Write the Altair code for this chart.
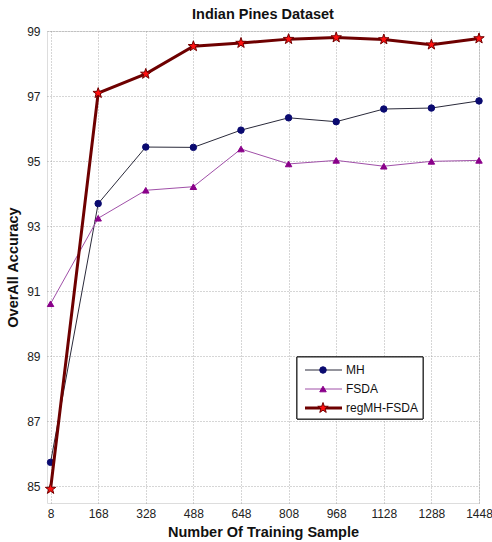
import altair as alt
import pandas as pd

# Training-set sizes and overall accuracy (%) per method
samples = [8, 168, 328, 488, 648, 808, 968, 1128, 1288, 1448]
mh = [85.73, 93.69, 95.43, 95.42, 95.95, 96.33, 96.21, 96.60, 96.63, 96.85]
fsda = [90.61, 93.24, 94.10, 94.21, 95.37, 94.91, 95.02, 94.84, 94.99, 95.02]
reg_mh_fsda = [84.91, 97.09, 97.68, 98.53, 98.63, 98.75, 98.80, 98.74, 98.58, 98.77]

series_names = ["MH", "FSDA", "regMH-FSDA"]
y_ticks = [85, 87, 89, 91, 93, 95, 97, 99]

rows = []
for name, vals in zip(series_names, [mh, fsda, reg_mh_fsda]):
    for n, v in zip(samples, vals):
        rows.append({"series": name, "n": n, "acc": v})
df = pd.DataFrame(rows)

FONT = "Liberation Sans"

# five-pointed star as a unit SVG path
STAR = ("M0,-1L0.235,-0.324L0.951,-0.309L0.380,0.124L0.588,0.809L0,0.4"
        "L-0.588,0.809L-0.380,0.124L-0.951,-0.309L-0.235,-0.324Z")

# line / marker styling per series
styles = {
    "MH": dict(line="#2a2a3a", lw=1, shape="circle", fill="#0a0a70", stroke="#0a0a70", size=42),
    "FSDA": dict(line="#a050a8", lw=1, shape="triangle-up", fill="#8a008a", stroke="#8a008a", size=42),
    "regMH-FSDA": dict(line="#6e0000", lw=3, shape=STAR, fill="#ff1010", stroke="#700000", size=120),
}

x_enc = alt.X(
    "n:Q",
    scale=alt.Scale(domain=[-4, 1448], nice=False, zero=False),
    axis=alt.Axis(
        values=samples, format="d", title="Number Of Training Sample", labelFont=FONT,
        labelFontSize=12, labelColor="#222", titleFont=FONT, titleFontSize=14.5,
        titleFontWeight="bold", titleColor="#111", labelPadding=5, titlePadding=6,
        tickSize=0, domain=False, grid=True, gridDash=[1, 2], gridColor="#999",
        gridOpacity=0.8, labelFlush=False, orient="bottom",
    ),
)
y_enc = alt.Y(
    "acc:Q",
    scale=alt.Scale(domain=[84.48, 99], nice=False, zero=False),
    axis=alt.Axis(
        values=y_ticks, title="OverAll Accuracy", labelFont=FONT,
        labelFontSize=12, labelColor="#222", titleFont=FONT, titleFontSize=14.5,
        titleFontWeight="bold", titleColor="#111", labelPadding=7, titlePadding=6,
        tickSize=0, domain=False, grid=True, gridDash=[1, 2], gridColor="#999",
        gridOpacity=0.8, orient="left",
    ),
)

base = alt.Chart(df)
layers = []
for name in series_names:
    s = styles[name]
    sub = base.transform_filter(alt.datum.series == name)
    layers.append(
        sub.mark_line(color=s["line"], strokeWidth=s["lw"]).encode(x=x_enc, y=y_enc)
    )
    layers.append(
        sub.mark_point(
            shape=s["shape"], filled=True, fill=s["fill"], stroke=s["stroke"],
            strokeWidth=1, size=s["size"], opacity=1,
        ).encode(x=x_enc, y=y_enc)
    )

# legend box with line + marker samples
legend_df = pd.DataFrame({"series": series_names})
leg_box = alt.Chart(legend_df).mark_rect(
    fill="white", stroke="#222", strokeWidth=1
).encode(x=alt.value(250), x2=alt.value(376), y=alt.value(326), y2=alt.value(388))
layers.append(leg_box)
row_y = [339, 358, 377]
for name, yy in zip(series_names, row_y):
    s = styles[name]
    one = alt.Chart(legend_df).transform_filter(alt.datum.series == name)
    layers.append(
        one.mark_rule(color=s["line"], strokeWidth=s["lw"]).encode(
            x=alt.value(258), x2=alt.value(295), y=alt.value(yy)
        )
    )
    layers.append(
        one.mark_point(
            shape=s["shape"], filled=True, fill=s["fill"], stroke=s["stroke"],
            strokeWidth=1, size=s["size"], opacity=1,
        ).encode(x=alt.value(276), y=alt.value(yy))
    )
    layers.append(
        one.mark_text(
            align="left", baseline="middle", font=FONT, fontSize=12, color="#111"
        ).encode(x=alt.value(299), y=alt.value(yy), text="series:N")
    )

chart = (
    alt.layer(*layers)
    .properties(
        width=432,
        height=472,
        title=alt.TitleParams(
            "Indian Pines Dataset", font=FONT, fontSize=14.5, fontWeight="bold",
            color="#111", anchor="middle", offset=3,
        ),
        autosize=alt.AutoSizeParams(type="none"),
        padding={"left": 47, "top": 31, "right": 13, "bottom": 39},
    )
    .configure_view(stroke="#333", strokeWidth=1)
    .configure(background="white")
)

chart.save("out.html", embed_options={"renderer": "svg", "actions": False})
